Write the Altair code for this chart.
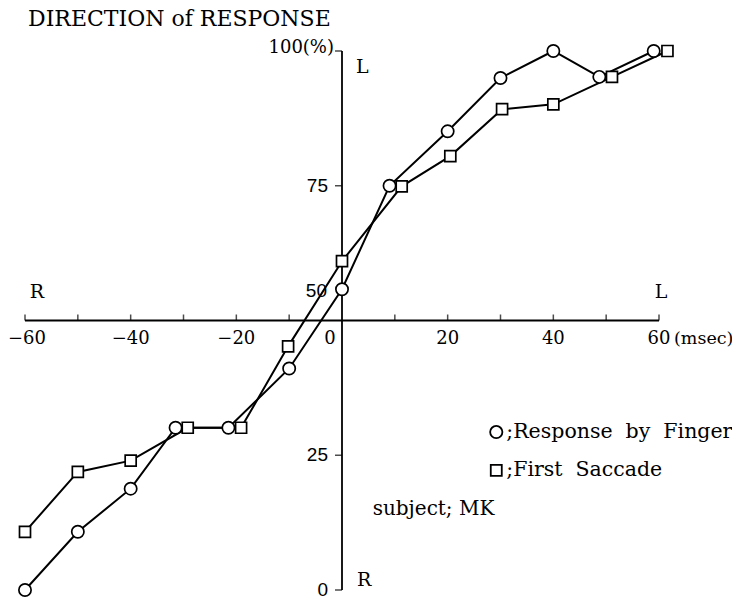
import altair as alt
import pandas as pd

# ---- data ----
finger_x = [-60, -50, -40, -31.5, -21.5, -10, 0, 9, 20, 30, 40, 48.7, 59]
finger_y = [0, 10.8, 18.8, 30.1, 30.1, 41.1, 55.8, 75, 85.1, 95, 100, 95.2, 100]
saccade_x = [-60, -50, -40, -29.2, -19.1, -10.2, 0, 11.3, 20.5, 30.3, 40, 51.1, 61.6]
saccade_y = [10.8, 21.9, 24, 30.1, 30.1, 45.2, 61, 74.9, 80.5, 89.2, 90.1, 95.2, 100]

x_tick_vals = [-60, -50, -40, -30, -20, -10, 10, 20, 30, 40, 50, 60]
x_label_vals = [-40, -20, 20, 40, 60]
x_label_text = ["\u221240", "\u221220", "20", "40", "60"]
y_tick_vals = [0, 25, 75, 100]
y_label_vals = [0, 25, 75]
y_label_text = ["0", "25", "75"]

W, H = 634, 539
SERIF = "DejaVu Serif"
SANS = "Liberation Sans"

xs = alt.Scale(domain=[-60, 60], nice=False, zero=False)
ys = alt.Scale(domain=[0, 100], nice=False, zero=False)

rows = []
for i, (x, y) in enumerate(zip(finger_x, finger_y)):
    rows.append({"series": "finger", "i": i, "x": x, "y": y})
for i, (x, y) in enumerate(zip(saccade_x, saccade_y)):
    rows.append({"series": "saccade", "i": i, "x": x, "y": y})
df = pd.DataFrame(rows)

X = lambda: alt.X("x:Q", scale=xs, axis=None)
Y = lambda: alt.Y("y:Q", scale=ys, axis=None)

lines = alt.Chart(df).mark_line(color="black", strokeWidth=2).encode(
    x=X(), y=Y(), detail="series:N", order="i:Q"
)
points = alt.Chart(df).mark_point(filled=False, fill="white", fillOpacity=1,
                                  stroke="black", strokeWidth=1.7, opacity=1).encode(
    x=X(), y=Y(),
    shape=alt.Shape("series:N", scale=alt.Scale(domain=["finger", "saccade"], range=["circle", "square"]), legend=None),
    size=alt.Size("series:N", scale=alt.Scale(domain=["finger", "saccade"], range=[150, 121]), legend=None),
)

# axes drawn in data space
hax = alt.Chart(pd.DataFrame({"x": [-60], "x2": [60], "y": [50]})).mark_rule(color="black", strokeWidth=1.8).encode(
    x=X(), x2="x2:Q", y=Y())
vax = alt.Chart(pd.DataFrame({"x": [0], "y": [0], "y2": [100]})).mark_rule(color="black", strokeWidth=1.8).encode(
    x=X(), y=Y(), y2="y2:Q")

xticks = alt.Chart(pd.DataFrame({"x": x_tick_vals, "y": [50] * len(x_tick_vals)})).mark_tick(
    orient="vertical", size=6, thickness=1.5, color="black", yOffset=-3).encode(x=X(), y=Y())
yticks = alt.Chart(pd.DataFrame({"x": [0] * len(y_tick_vals), "y": y_tick_vals})).mark_tick(
    orient="horizontal", size=7, thickness=1.5, color="black", xOffset=-3.5).encode(x=X(), y=Y())


def text_layer(texts, xv, yv, font, size, align="center", baseline="middle", dx=0, dy=0):
    d = pd.DataFrame({"t": texts, "x": xv, "y": yv})
    return alt.Chart(d).mark_text(font=font, fontSize=size, align=align, baseline=baseline,
                                  dx=dx, dy=dy, color="black").encode(x=X(), y=Y(), text="t:N")


xlabels = text_layer(x_label_text, x_label_vals, [50] * len(x_label_vals), SERIF, 18, dy=18)
xfirst = text_layer(["\u221260"], [-60], [50], SERIF, 18, align="left", dx=-17, dy=18)
xzero = text_layer(["0"], [0], [50], SERIF, 18, dx=-12, dy=18)
msec = text_layer(["(msec)"], [60], [50], SERIF, 17.5, align="left", dx=15, dy=18)
ylabels = text_layer(y_label_text, [0] * len(y_label_vals), y_label_vals, SANS, 19, align="right", dx=-14)
y50 = text_layer(["50"], [0], [50], SANS, 19, align="right", dx=-15, dy=-30)
y100 = text_layer(["100(%)"], [0], [100], SERIF, 18, align="right", dx=-8, dy=-3)
top_L = text_layer(["L"], [0], [100], SERIF, 19, align="left", dx=14, dy=16)
bot_R = text_layer(["R"], [0], [0], SERIF, 19, align="left", dx=15, dy=-10)
left_R = text_layer(["R"], [-60], [50], SERIF, 19, dx=12, dy=-29)
right_L = text_layer(["L"], [60], [50], SERIF, 19, dx=2, dy=-29)

# legend / annotations (positions in data space)
leg_x = [29.2, 29.2]
leg_y = [29.3, 22.2]
leg_sym = pd.DataFrame({"series": ["finger", "saccade"], "x": leg_x, "y": leg_y})
legend_syms = alt.Chart(leg_sym).mark_point(filled=False, fill="white", fillOpacity=1, stroke="black",
                                             strokeWidth=1.8).encode(
    x=X(), y=Y(),
    shape=alt.Shape("series:N", scale=alt.Scale(domain=["finger", "saccade"], range=["circle", "square"]), legend=None),
    size=alt.Size("series:N", scale=alt.Scale(domain=["finger", "saccade"], range=[105, 85]), legend=None),
)
legend_text = text_layer([";Response\u00a0\u00a0by\u00a0\u00a0Finger", ";First\u00a0\u00a0Saccade"], leg_x, leg_y,
                         SERIF, 20.5, align="left", dx=10)
subject = text_layer(["subject;\u00a0MK"], [5.8], [15.0], SERIF, 20, align="left")

title = alt.Chart(pd.DataFrame({"t": ["DIRECTION of RESPONSE"]})).mark_text(
    font=SERIF, fontSize=22, align="left", baseline="middle", color="black").encode(
    x=alt.value(3), y=alt.value(-32), text="t:N")

chart = alt.layer(
    hax, vax, xticks, yticks, lines, points,
    xlabels, xfirst, xzero, msec, ylabels, y50, y100, top_L, bot_R, left_R, right_L,
    legend_syms, legend_text, subject, title,
).properties(
    width=W, height=H,
    autosize=alt.AutoSizeParams(type="none"),
    padding={"left": 17, "top": 43, "right": 73, "bottom": 10},
).configure_view(stroke=None)

chart.save("out.html", embed_options={"renderer": "svg", "actions": False})
